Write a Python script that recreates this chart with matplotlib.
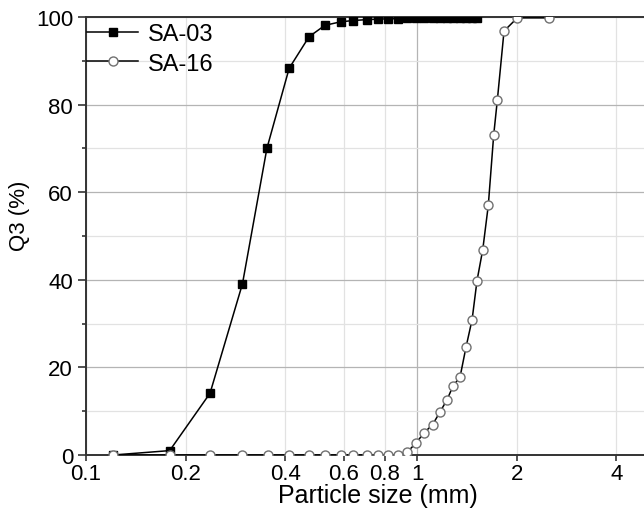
import numpy as np
import matplotlib
matplotlib.use('Agg')
import matplotlib.pyplot as plt
from matplotlib.ticker import FixedLocator, FixedFormatter

plt.rcParams['font.family'] = ['Liberation Sans', 'DejaVu Sans']

# particle sizes (mm)
size_16 = [0.121, 0.179, 0.237, 0.297, 0.354, 0.411, 0.472, 0.527, 0.588, 0.642,
           0.705, 0.761, 0.819, 0.878, 0.936, 0.993, 1.051, 1.114, 1.173, 1.232,
           1.286, 1.349, 1.406, 1.467, 1.518, 1.580, 1.642, 1.705, 1.749, 1.832,
           2.009, 2.505]
q3_16 = [0, 0, 0, 0, 0, 0, 0, 0, 0, 0,
         0, 0, 0, 0, 0.75, 2.7, 5.1, 6.9, 9.8, 12.6,
         15.8, 17.8, 24.6, 30.9, 39.8, 46.9, 57.0, 73.1, 81.1, 96.8,
         99.8, 99.8]

size_03 = [0.121, 0.179, 0.237, 0.297, 0.352, 0.411, 0.472, 0.527, 0.588, 0.642,
           0.705, 0.761, 0.819, 0.878, 0.936, 0.993, 1.051, 1.114, 1.173, 1.232,
           1.286, 1.349, 1.406, 1.467, 1.518]
q3_03 = [0, 1.0, 14.1, 39.1, 70.0, 88.3, 95.5, 98.1, 98.9, 99.2,
         99.4, 99.5, 99.6, 99.6, 99.7, 99.7, 99.7, 99.7, 99.8, 99.8,
         99.8, 99.8, 99.8, 99.8, 99.8]

major_x = [0.1, 1]
minor_x = [0.2, 0.4, 0.6, 0.8, 2, 4]

fig = plt.figure(figsize=(6.44, 5.10), dpi=100)
ax = fig.add_axes([0.1335, 0.1059, 0.8665, 0.8588])

ax.plot(size_03, q3_03, color='black', lw=1.1, marker='s', ms=5.5,
        mfc='black', mec='black', label='SA-03', zorder=3)
ax.plot(size_16, q3_16, color='black', lw=1.1, marker='o', ms=6.5,
        mfc='white', mec='#707070', mew=1.0, label='SA-16', zorder=4)

ax.set_xscale('log')
ax.set_xlim(0.1, 4.85)
ax.set_ylim(0, 100)

ax.xaxis.set_major_locator(FixedLocator(major_x))
ax.xaxis.set_major_formatter(FixedFormatter(['0.1', '1']))
ax.xaxis.set_minor_locator(FixedLocator(minor_x))
ax.xaxis.set_minor_formatter(FixedFormatter(['0.2', '0.4', '0.6', '0.8', '2', '4']))
ax.set_yticks([0, 20, 40, 60, 80, 100])
ax.set_yticks([10, 30, 50, 70, 90], minor=True)

ax.grid(which='major', color='#b4b4b4', lw=0.9)
ax.grid(which='minor', color='#e2e2e2', lw=0.9)
ax.set_axisbelow(True)

ax.tick_params(which='both', direction='out', labelsize=16, width=1.2,
               color='#333333')
ax.tick_params(axis='y', which='major', length=5.8, pad=3.5)
ax.tick_params(axis='y', which='minor', length=3)
ax.tick_params(axis='x', which='both', length=4.5, pad=1)

for side in ['left', 'bottom', 'top']:
    ax.spines[side].set_linewidth(1.4)
    ax.spines[side].set_color('#333333')
ax.spines['right'].set_visible(False)

ax.set_xlabel('Particle size (mm)', fontsize=18)
ax.xaxis.set_label_coords(0.523, -0.064)
ax.set_ylabel('Q3 (%)', fontsize=16, va='center')
ax.yaxis.set_label_coords(-0.12, 0.548)

ax.legend(loc='upper left', frameon=False, fontsize=17, handlelength=2.15,
          borderaxespad=0.0, borderpad=0.05, handletextpad=0.42, labelspacing=0.3,
          bbox_to_anchor=(0.0, 0.988))

fig.savefig('out.png', dpi=100)
